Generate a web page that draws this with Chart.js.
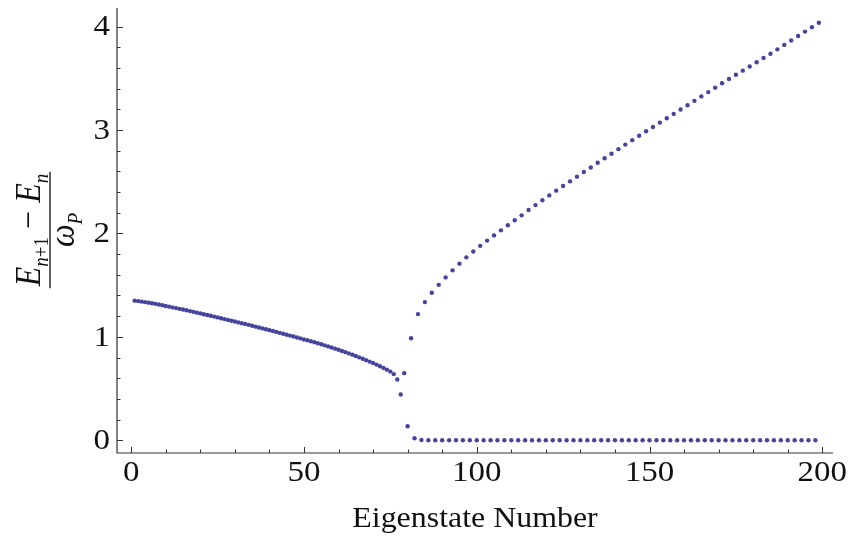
<!DOCTYPE html>
<html>
<head>
<meta charset="utf-8">
<script src="https://cdn.jsdelivr.net/npm/chart.js@4.4.1/dist/chart.umd.min.js"></script>
<style>
  html, body { margin: 0; padding: 0; background: #fff; }
  #wrap { width: 849px; height: 540px; }
</style>
</head>
<body>
<div id="wrap"><canvas id="gapPlot"></canvas></div>
<script>
// Level spacing (E_{n+1} - E_n) / ω_P against eigenstate number
// n = 1..77, single band below the crossover
const bandGaps = [
  1.350, 1.346, 1.341, 1.336, 1.331, 1.325, 1.319, 1.313, 1.306, 1.299,
  1.292, 1.285, 1.278, 1.271, 1.264, 1.257, 1.249, 1.242, 1.234, 1.227,
  1.219, 1.211, 1.204, 1.196, 1.188, 1.180, 1.172, 1.164, 1.156, 1.148,
  1.140, 1.132, 1.124, 1.116, 1.107, 1.099, 1.091, 1.082, 1.074, 1.065,
  1.057, 1.048, 1.039, 1.030, 1.021, 1.012, 1.003, 0.994, 0.985, 0.975,
  0.967, 0.958, 0.948, 0.938, 0.928, 0.918, 0.908, 0.897, 0.886, 0.875,
  0.864, 0.852, 0.840, 0.828, 0.815, 0.802, 0.789, 0.775, 0.761, 0.747,
  0.732, 0.716, 0.700, 0.683, 0.664, 0.640, 0.588
];
// odd n = 79, 81, ..., 199
const upperGaps = [
  0.649, 0.987, 1.220, 1.336, 1.426, 1.503, 1.575, 1.643, 1.708, 1.769,
  1.826, 1.880, 1.931, 1.981, 2.030, 2.079, 2.127, 2.175, 2.227, 2.274,
  2.321, 2.368, 2.414, 2.459, 2.504, 2.549, 2.594, 2.638, 2.683, 2.727,
  2.771, 2.815, 2.859, 2.902, 2.945, 2.988, 3.030, 3.072, 3.114, 3.156,
  3.198, 3.240, 3.282, 3.325, 3.367, 3.410, 3.453, 3.493, 3.534, 3.574,
  3.615, 3.655, 3.696, 3.737, 3.780, 3.823, 3.866, 3.909, 3.952, 3.995,
  4.037
];
// even n = 78, 80, ..., 198 (near-degenerate pairs)
const pairGaps = [
  0.442, 0.136, 0.019, 0.003, 0, 0, 0, 0, 0, 0,
  0, 0, 0, 0, 0, 0, 0, 0, 0, 0,
  0, 0, 0, 0, 0, 0, 0, 0, 0, 0,
  0, 0, 0, 0, 0, 0, 0, 0, 0, 0,
  0, 0, 0, 0, 0, 0, 0, 0, 0, 0,
  0, 0, 0, 0, 0, 0, 0, 0, 0, 0,
  0
];

const xMajor = [0, 50, 100, 150, 200];
const yMajor = [0, 1, 2, 3, 4];
const xMinor = [0, 10, 20, 30, 40, 50, 60, 70, 80, 90, 100, 110, 120, 130, 140, 150, 160, 170, 180, 190, 200];
const yMinor = [0, 0.2, 0.4, 0.6, 0.8, 1, 1.2, 1.4, 1.6, 1.8, 2, 2.2, 2.4, 2.6, 2.8, 3, 3.2, 3.4, 3.6, 3.8, 4];

const TEXT_SX = 1.1;   // text is drawn a little wide
const SERIF = '"Liberation Serif", "DejaVu Serif", serif';

const points = [];
bandGaps.forEach((v, i) => points.push({x: i + 1, y: v}));
upperGaps.forEach((v, i) => points.push({x: 79 + 2 * i, y: v}));
pairGaps.forEach((v, i) => points.push({x: 78 + 2 * i, y: v}));

function wideText(ctx, text, x, y, align, baseline) {
  ctx.save();
  ctx.translate(x, y);
  ctx.scale(TEXT_SX, 1);
  ctx.textAlign = align;
  ctx.textBaseline = baseline;
  ctx.fillText(text, 0, 0);
  ctx.restore();
}

// axes with inward ticks, tick labels and titles
const frameAxes = {
  id: 'frameAxes',
  beforeDatasetsDraw(chart) {
    const {ctx, chartArea: a, scales: {x, y}} = chart;
    ctx.save();
    ctx.strokeStyle = '#333';
    ctx.lineWidth = 1.2;
    ctx.beginPath();
    ctx.moveTo(a.left, a.top);
    ctx.lineTo(a.left, a.bottom);
    ctx.lineTo(a.right, a.bottom);
    ctx.stroke();

    ctx.lineWidth = 1;
    ctx.beginPath();
    for (const v of xMinor) {
      const px = Math.round(x.getPixelForValue(v)) + 0.5;
      const len = xMajor.includes(v) ? 6 : 3.5;
      ctx.moveTo(px, a.bottom);
      ctx.lineTo(px, a.bottom - len);
    }
    for (const v of yMinor) {
      const py = Math.round(y.getPixelForValue(v)) + 0.5;
      const len = yMajor.includes(v) ? 6 : 3.5;
      ctx.moveTo(a.left, py);
      ctx.lineTo(a.left + len, py);
    }
    ctx.stroke();
    ctx.restore();
  },
  afterDraw(chart) {
    const {ctx, chartArea: a, scales: {x, y}} = chart;
    ctx.save();
    ctx.fillStyle = '#111';
    ctx.font = '30px ' + SERIF;
    for (const v of xMajor) {
      wideText(ctx, String(v), x.getPixelForValue(v), a.bottom + 20, 'center', 'middle');
    }
    for (const v of yMajor) {
      wideText(ctx, String(v), a.left - 7, y.getPixelForValue(v) + 1, 'right', 'middle');
    }
    ctx.font = '29px ' + SERIF;
    wideText(ctx, 'Eigenstate Number', (a.left + a.right) / 2, 519, 'center', 'middle');

    // y title: (E_{n+1} − E_n) / ω_P, rotated
    const big = 'italic 32px ' + SERIF;
    const sub = 'italic 19px ' + SERIF;
    const subUp = '19px ' + SERIF;
    const up = '32px ' + SERIF;
    const numParts = [
      [big, 'E', 0], [sub, 'n', 7], [subUp, '+1', 7],
      [up, ' \u2212 ', 0], [big, 'E', 0], [sub, 'n', 7]
    ];
    const denParts = [[big, '\u03c9', 0], [sub, 'P', 7]];
    const widthOf = parts => parts.reduce((w, p) => { ctx.font = p[0]; return w + ctx.measureText(p[1]).width; }, 0);
    const drawParts = (parts, x0, base) => {
      let cx = x0;
      for (const p of parts) {
        ctx.font = p[0];
        ctx.fillText(p[1], cx, base + p[2]);
        cx += ctx.measureText(p[1]).width;
      }
    };
    ctx.translate(50, 230);
    ctx.scale(TEXT_SX, 1);
    ctx.rotate(-Math.PI / 2);
    ctx.textAlign = 'left';
    ctx.textBaseline = 'alphabetic';
    const nw = widthOf(numParts);
    const dw = widthOf(denParts);
    drawParts(numParts, -nw / 2, -9);
    drawParts(denParts, -dw / 2, 22);
    ctx.strokeStyle = '#111';
    ctx.lineWidth = 1.2;
    ctx.beginPath();
    ctx.moveTo(-nw / 2 - 2, 0);
    ctx.lineTo(nw / 2 + 2, 0);
    ctx.stroke();
    ctx.restore();
  }
};

const ctx = document.getElementById('gapPlot').getContext('2d');
const gapPlot = new Chart(ctx, {
  type: 'scatter',
  data: {
    datasets: [{
      label: 'spacing',
      data: points,
      backgroundColor: '#45459e',
      borderWidth: 0,
      pointRadius: 2.2,
      pointHoverRadius: 2.2
    }]
  },
  options: {
    responsive: true,
    maintainAspectRatio: false,
    animation: false,
    events: [],
    layout: { padding: { left: 117, right: 16, top: 8, bottom: 87 } },
    plugins: { legend: { display: false }, tooltip: { enabled: false } },
    scales: {
      x: { type: 'linear', display: false, min: -4.1, max: 203.1 },
      y: { type: 'linear', display: false, min: -0.123, max: 4.18 }
    }
  },
  plugins: [frameAxes]
});
</script>
</body>
</html>
